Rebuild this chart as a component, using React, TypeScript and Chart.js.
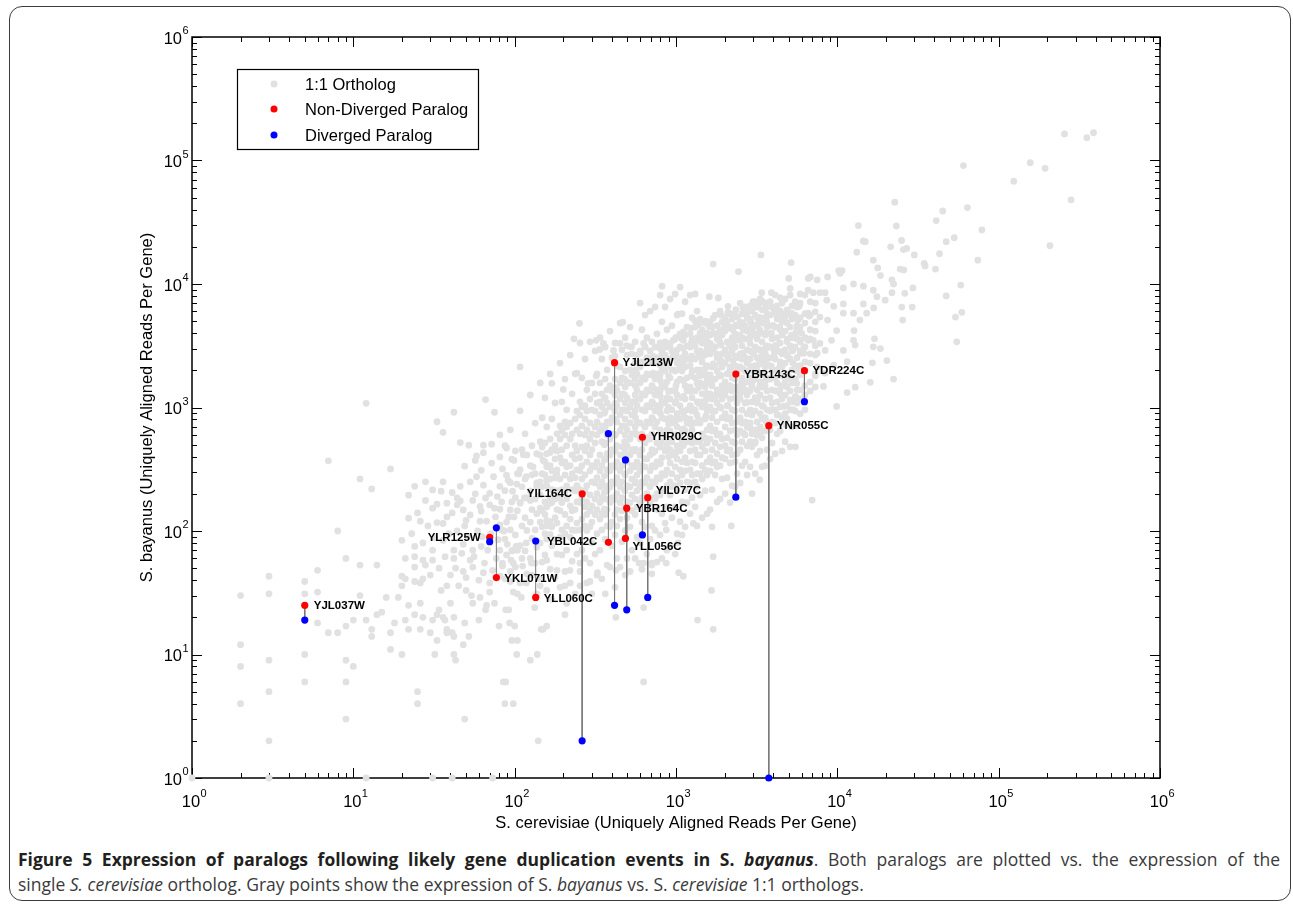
import React, { useEffect, useRef } from "react";
import { Chart, registerables } from "chart.js";

Chart.register(...registerables);

// ---------------- axis / text content ----------------
const decadeTicks = [1, 10, 100, 1000, 10000, 100000, 1000000];
const decadeExponents = ["0", "1", "2", "3", "4", "5", "6"];
const minorMultipliers = [2, 3, 4, 5, 6, 7, 8, 9];
const tickBase = "10";
const xAxisTitle = "S. cerevisiae (Uniquely Aligned Reads Per Gene)";
const yAxisTitle = "S. bayanus (Uniquely Aligned Reads Per Gene)";
const legendLabels = ["1:1 Ortholog", "Non-Diverged Paralog", "Diverged Paralog"];

// ---------------- paralog pairs ----------------
const pairGenes = ["YJL037W", "YLR125W", "YKL071W", "YLL060C", "YIL164C", "YBL042C", "YJL213W", "YLL056C", "YBR164C", "YHR029C", "YIL077C", "YBR143C", "YNR055C", "YDR224C"];
const pairCerevisiae = [5, 70, 77, 135, 262, 381, 416, 486, 495, 619, 668, 2349, 3760, 6252];
const nonDivergedBayanus = [25, 89, 42, 29, 200, 81, 2306, 87, 153, 574, 186, 1867, 712, 1986];
const divergedBayanus = [19, 82, 106, 83, 2, 614, 25, 376, 23, 93, 29, 188, 1, 1114];

// ---------------- 1:1 orthologs [S. cerevisiae, S. bayanus] ----------------
const orthologLowSparse = [
  [1, 1], [3, 1], [12, 1], [31, 1], [41, 1], [73, 1],
  [2, 4], [2, 8], [2, 12], [2, 30], [3, 2], [3, 5], [3, 9], [3, 31], [3, 43],
  [5, 6], [5, 10], [5, 31], [5, 39], [6, 18], [6, 32], [6, 48], [7, 15], [7, 370], [8, 15], [8, 100],
  [9, 3], [9, 6], [9, 9], [9, 17], [9, 60], [10, 8], [10, 19], [11, 30], [11, 53], [11, 264], [12, 19], [12, 1080],
  [13, 14], [13, 16], [13, 219], [14, 21], [14, 53], [15, 22], [16, 29], [17, 11], [17, 15], [17, 318],
  [18, 18], [19, 29], [20, 10], [20, 36], [20, 43], [20, 84], [21, 19], [21, 41], [22, 16], [22, 25], [22, 127], [22, 195],
  [24, 21], [24, 39], [24, 51], [24, 62], [24, 75], [24, 230], [25, 4], [25, 5], [26, 16], [26, 26], [26, 38], [26, 120],
  [27, 20], [27, 41], [27, 80], [28, 53], [28, 177], [28, 250], [30, 15], [31, 19], [31, 58], [31, 70], [31, 153], [31, 215],
  [32, 10], [33, 13], [33, 21], [33, 117], [33, 767], [34, 23], [34, 50], [35, 210], [36, 20], [36, 84], [36, 250], [36, 630],
  [37, 19], [38, 15], [38, 16], [38, 36], [38, 130], [38, 168], [40, 44], [41, 15], [41, 205], [42, 10], [42, 14], [42, 20], [42, 60], [42, 70], [42, 915],
  [43, 9], [44, 163], [44, 185], [46, 230], [46, 520], [48, 12], [48, 47], [48, 78], [48, 148], [49, 3], [49, 18], [49, 335],
  [50, 33], [50, 122], [52, 14], [52, 495], [53, 58], [53, 250], [55, 26], [55, 51], [55, 70], [55, 177], [57, 373], [58, 275], [58, 405],
  [60, 19], [61, 120], [61, 158], [62, 75], [62, 310], [64, 46], [64, 235], [64, 430], [64, 495], [66, 23], [66, 185], [66, 1160],
  [70, 38], [70, 163], [70, 202], [72, 355], [72, 505], [74, 275], [75, 153], [75, 915], [78, 190],
  [81, 43], [81, 112], [81, 230], [81, 398], [83, 172], [85, 6], [87, 4], [88, 6], [89, 470], [91, 257], [93, 18], [94, 39], [94, 148],
  [96, 13], [98, 4], [98, 70], [99, 130], [99, 373], [100, 17], [103, 10], [103, 240], [104, 13], [108, 168], [113, 415],
  [118, 38], [118, 80], [118, 275], [125, 9], [125, 177], [130, 330], [137, 230], [140, 2], [144, 36], [144, 153],
  [150, 16], [150, 373], [158, 17], [158, 58], [158, 122], [158, 257], [166, 168], [166, 433], [182, 290],
  [21, 60], [23, 95], [25, 140], [27, 58], [29, 110], [30, 44], [32, 88], [33, 165], [35, 33], [36, 115], [37, 62], [39, 95],
  [40, 26], [41, 140], [43, 50], [44, 100], [45, 36], [46, 175], [47, 66], [49, 110], [50, 42], [51, 90], [53, 135], [54, 30],
  [56, 62], [57, 200], [59, 100], [60, 40], [62, 145], [63, 90], [65, 55], [67, 120], [68, 70], [71, 95], [73, 48], [76, 130],
  [77, 60], [79, 85], [84, 52], [86, 100], [90, 78], [92, 130], [95, 58], [97, 210], [102, 75], [106, 290], [112, 52], [115, 185],
];

const orthologLowerTail = [
  [61, 29], [67, 25], [70, 32], [75, 26], [80, 17], [88, 23], [92, 23], [98, 32], [98, 55], [110, 29], [127, 55], [133, 24], [138, 10], [146, 16],
  [183, 48], [205, 21], [205, 36], [220, 48], [254, 36], [254, 55], [293, 39], [326, 46], [424, 20], [424, 48],
  [590, 55], [630, 6], [630, 24], [630, 55], [708, 45], [708, 55], [870, 55], [1040, 46], [1360, 19], [1700, 16],
  [870, 102], [1030, 80], [1280, 115], [1700, 62], [1110, 43], [1660, 33], [6980, 178], [3300, 260], [2200, 110],
];

const orthologUpper = [
  [256000, 164000], [352000, 153000], [387000, 168000], [157000, 96000], [194000, 86500], [124000, 68000], [60500, 91000],
  [281000, 48000], [208000, 20400], [22700, 46000], [45000, 39000], [41000, 32600], [64000, 41600], [78700, 27400],
  [13500, 29700], [23200, 29500], [14500, 22300], [14900, 22000], [25000, 22500], [47300, 22000], [53000, 23700],
  [13200, 18100], [21400, 20000], [25700, 19000], [26900, 19400], [30000, 17200], [43000, 17600], [34500, 14700],
  [35000, 14000], [74300, 15600], [40600, 13200], [3360, 17200], [1700, 14500], [2440, 12600], [5170, 14900],
  [10700, 12800], [10200, 12800], [24500, 13200], [25800, 13000], [16700, 15600], [17800, 13500], [18500, 11700],
  [21800, 10800], [22300, 10000], [29400, 9300], [26200, 8400], [29100, 6500], [25100, 6500], [25400, 5100],
  [58200, 9800], [47300, 8000], [59100, 5900], [54000, 5400], [55000, 3400], [22300, 1700], [16000, 1600],
  [12900, 1460], [11500, 1320], [9900, 1020], [20300, 2400], [16500, 2300], [18500, 3000], [16700, 3100],
  [17000, 3600], [12600, 3500], [12900, 3200], [10900, 2900], [11500, 2350], [9500, 2200], [8200, 1480],
  [8400, 1900], [7300, 1800], [7500, 2130], [9200, 3500], [9900, 4200], [12700, 4200], [13800, 5100],
  [12600, 5800], [15200, 5800], [16800, 6400], [14500, 6900], [17600, 7900], [19800, 7400], [21800, 8500],
  [16700, 8900], [14500, 9600], [12600, 10000], [10900, 9300], [10400, 12200], [8700, 11400], [7500, 10800],
  [6800, 11400], [6600, 8900], [7100, 8500], [7800, 8500], [8400, 8500], [8600, 7400], [9500, 6600],
  [10900, 6900], [10900, 5800], [7300, 5950], [7800, 5400], [8700, 5100], [6600, 5800], [5800, 6800],
  [5700, 5100], [5000, 5800], [4800, 5800], [5100, 9200], [5000, 11100], [3900, 8500], [3400, 8500],
  [3400, 7300], [3000, 7200], [4050, 6200], [3600, 6400], [2750, 5900], [2400, 5400], [2100, 6600],
  [1830, 7700], [1610, 7900], [2060, 4950], [2950, 4650], [3400, 5300], [4500, 5600], [4400, 4500],
  [3900, 4000], [3300, 4250], [2620, 4250], [2550, 3600], [2250, 4250], [1960, 4250], [1700, 4000],
  [1550, 4000], [1460, 3500], [1850, 3500], [2200, 3100], [2880, 3300], [3620, 3000], [4200, 3200],
  [5200, 3850], [5600, 4250], [6000, 4000], [6200, 3100], [6600, 3500], [7100, 3500], [7500, 2750],
  [7800, 3300], [8400, 2900], [5900, 2750], [5300, 2300], [4900, 2600], [4400, 2150], [4560, 1800],
  [5000, 1750], [5600, 1570], [3620, 1670], [4400, 1400], [5100, 1150], [5500, 1230], [4660, 1020],
  [4300, 870], [5300, 960], [4800, 720], [5500, 480], [2880, 680], [3100, 530], [2620, 620], [3300, 620],
  [3620, 770], [3930, 960], [3480, 1020], [3200, 1150], [2750, 1100], [2500, 1300], [2950, 1480],
  [3300, 1480], [2550, 1600], [2060, 1400], [1800, 1300], [1550, 1300], [1630, 1670], [1850, 1800],
  [1400, 1800], [2160, 2000], [2880, 2000], [3200, 1950], [3900, 2150], [4050, 2600], [3400, 2500],
  [2620, 2600], [2250, 2400], [1850, 2600], [1630, 2750], [1450, 2750], [1630, 3300],
  [820, 9600], [6600, 11100], [1030, 5700], [1310, 5050], [252, 4800], [468, 4900], [233, 3600], [337, 2950],
  [495, 3170], [530, 3100], [820, 3100], [960, 3500], [1110, 3500], [1270, 3330], [1410, 4000], [1610, 4500],
  [1830, 4000], [2000, 4500], [2750, 5800], [3170, 5400], [3600, 5300], [2800, 4250], [3150, 4650],
  [3650, 4950], [4000, 4600], [4670, 5400], [5200, 5800], [5800, 6600], [6700, 5500], [4900, 3600],
  [5900, 3500], [2250, 3300], [2500, 3500], [1610, 3100], [1790, 2700], [2160, 2700], [2440, 2600],
  [3020, 2750], [3620, 2600], [4050, 2900], [4400, 2830], [5300, 2900], [6200, 2750], [1410, 2830],
  [1460, 2600], [1250, 2600], [960, 2600], [1050, 2350], [830, 2300], [820, 2830], [418, 2600], [108, 2130],
  [320, 3500], [355, 3300], [410, 2900], [450, 3300], [520, 3100], [630, 3300], [600, 2750], [1230, 3100],
  [1550, 3500], [1700, 3000], [1850, 3800], [170, 1570], [200, 1400], [243, 1900], [285, 1570], [320, 1800],
];

// each row: an S. cerevisiae read level, then the S. bayanus reads of the genes read at that level
const orthologCoreColumns = [
  [81, 601, 150, 70], [84, 318, 101, 55],
  [87, 490, 212, 86, 41], [89, 283, 118, 64],
  [94, 660, 246, 102, 47], [96, 381, 172, 69],
  [101, 445, 186, 93, 51], [104, 291, 146, 70, 31],
  [108, 940, 314, 170, 76, 38], [111, 455, 228, 110, 60],
  [116, 612, 264, 128, 69], [119, 413, 186, 101, 45],
  [125, 1262, 338, 211, 118, 60], [128, 490, 285, 149, 87, 44],
  [134, 748, 291, 182, 102, 55], [137, 422, 245, 138, 74, 31],
  [144, 1580, 528, 412, 250, 196, 118, 80, 41], [148, 826, 479, 291, 228, 146, 108, 56],
  [154, 1198, 516, 363, 284, 172, 136, 95, 64], [158, 696, 422, 331, 233, 157, 110, 86, 33],
  [166, 1870, 556, 338, 264, 186, 119, 94, 49], [170, 808, 455, 307, 216, 170, 108, 76, 28],
  [178, 1088, 490, 383, 270, 182, 128, 86, 42], [183, 612, 445, 313, 212, 149, 116, 65],
  [191, 2290, 711, 556, 392, 264, 186, 146, 89, 35], [196, 1112, 646, 455, 356, 216, 170, 102, 64],
  [205, 1700, 766, 600, 363, 284, 201, 136, 95, 47], [210, 958, 696, 490, 331, 232, 182, 110, 70, 26],
  [221, 2660, 749, 556, 338, 264, 160, 125, 89, 38], [227, 1290, 612, 413, 291, 216, 146, 102, 57],
  [237, 1875, 808, 490, 383, 270, 211, 149, 101, 31], [243, 936, 660, 445, 313, 233, 172, 116, 65],
  [254, 3330, 1112, 870, 612, 392, 307, 216, 170, 102, 47], [261, 1740, 1010, 711, 480, 338, 264, 186, 125, 70],
  [273, 2470, 1033, 808, 600, 445, 284, 212, 157, 110, 60], [280, 1390, 938, 660, 490, 363, 233, 172, 136, 101, 38],
  [293, 3400, 1172, 749, 556, 413, 307, 196, 146, 108, 55], [301, 1580, 958, 612, 455, 338, 250, 160, 118, 80, 31],
  [315, 2870, 1290, 938, 696, 516, 331, 245, 182, 136, 65], [324, 1875, 1088, 766, 600, 363, 270, 201, 149, 95, 44],
  [338, 3670, 1580, 1112, 870, 646, 413, 307, 228, 170, 125, 70], [347, 2470, 1290, 1010, 711, 528, 338, 250, 186, 138, 102, 41],
  [364, 3090, 1700, 1198, 938, 696, 516, 383, 233, 182, 136, 86, 31], [374, 2020, 1390, 1088, 766, 600, 422, 313, 212, 149, 110, 53],
  [390, 4160, 1500, 1010, 749, 556, 413, 307, 228, 170, 108, 51], [401, 2530, 1362, 826, 612, 455, 338, 250, 186, 118, 76],
  [419, 3330, 1700, 1262, 938, 600, 445, 331, 245, 182, 136, 93, 35], [430, 2180, 1390, 1033, 766, 490, 363, 270, 201, 149, 110, 60],
  [450, 4830, 2130, 1580, 1172, 870, 646, 413, 307, 228, 170, 125, 51], [462, 2930, 1740, 1290, 958, 711, 480, 338, 250, 186, 146, 82],
  [484, 3670, 1975, 1465, 1088, 808, 600, 445, 284, 212, 157, 101, 44], [497, 2660, 1615, 1198, 938, 660, 490, 363, 233, 172, 128, 60],
  [519, 4480, 2020, 1580, 1010, 749, 556, 413, 307, 228, 170, 108, 47], [533, 2720, 1835, 1112, 870, 612, 455, 338, 264, 196, 146, 70],
  [558, 3400, 2290, 1700, 1262, 938, 696, 445, 331, 245, 182, 136, 60], [573, 2660, 1875, 1390, 1033, 766, 600, 363, 284, 212, 157, 89],
  [599, 7010, 2870, 2130, 1580, 1172, 749, 556, 413, 307, 228, 170, 80], [615, 4260, 2340, 1740, 1290, 958, 612, 455, 338, 250, 186, 118, 49],
  [643, 5600, 3090, 2290, 1700, 1262, 938, 696, 516, 331, 245, 182, 108], [660, 3670, 2530, 1875, 1390, 1033, 766, 570, 383, 270, 201, 149, 65],
  [691, 6040, 2870, 1835, 1362, 1010, 749, 556, 413, 307, 228, 170, 86], [709, 3400, 2340, 1500, 1112, 826, 612, 455, 338, 250, 186, 110, 53],
  [742, 6510, 3090, 2290, 1700, 1262, 938, 696, 445, 331, 245, 182, 101], [762, 3950, 2530, 1875, 1390, 1033, 766, 516, 363, 270, 201, 149, 56],
  [797, 8140, 3330, 2470, 1835, 1362, 1010, 646, 480, 356, 264, 196, 93], [818, 4940, 2720, 2020, 1500, 1112, 826, 528, 392, 291, 216, 138, 60],
  [856, 6510, 3400, 2660, 1975, 1465, 1088, 808, 600, 445, 284, 212, 116], [879, 4260, 3090, 2180, 1615, 1198, 938, 660, 490, 313, 233, 157, 70],
  [919, 7560, 3160, 2470, 1740, 1172, 826, 646, 455, 356, 250, 196, 76], [943, 4590, 2870, 2020, 1362, 958, 749, 528, 413, 291, 228, 128],
  [988, 8300, 3590, 2530, 1975, 1390, 1088, 766, 600, 422, 331, 233, 157, 65], [1015, 5600, 2930, 2290, 1615, 1262, 890, 696, 490, 383, 270, 212, 95],
  [1060, 9450, 3950, 3090, 2180, 1700, 1033, 808, 570, 445, 313, 245, 119], [1090, 5740, 3590, 2530, 1975, 1200, 938, 660, 516, 363, 284, 172, 93],
  [1139, 7180, 3860, 2720, 2130, 1500, 1172, 826, 646, 392, 307, 216, 108], [1170, 4480, 3160, 2470, 1740, 1362, 958, 749, 528, 356, 250, 170],
  [1223, 8140, 3950, 3090, 2180, 1465, 1033, 808, 570, 445, 313, 245, 138], [1258, 5330, 3590, 2530, 1975, 1200, 938, 660, 516, 363, 284, 186],
  [1314, 8300, 4480, 3160, 2470, 1740, 1362, 958, 749, 455, 356, 250, 157], [1350, 6040, 3670, 2870, 2020, 1580, 1112, 870, 528, 413, 291, 228, 110],
  [1411, 5200, 3670, 2870, 2020, 1580, 1112, 749, 528, 413, 291, 196], [1452, 4260, 3330, 2340, 1835, 1290, 1010, 612, 480, 338, 264, 128],
  [1515, 4830, 3400, 2660, 1875, 1465, 1033, 808, 570, 445, 313, 212], [1558, 3950, 3090, 2180, 1700, 1200, 938, 660, 516, 363, 284, 138],
  [1627, 4940, 3860, 2720, 1835, 1290, 1010, 711, 556, 392, 307, 149], [1672, 4480, 3160, 2130, 1500, 1172, 826, 646, 455, 356, 216, 108],
  [1748, 5600, 3950, 3090, 2180, 1700, 1200, 938, 660, 516, 363, 284], [1797, 4590, 3590, 2530, 1975, 1390, 1088, 766, 600, 422, 331, 172],
  [1877, 6040, 4260, 3330, 2340, 1835, 1290, 1010, 612, 480, 338, 182], [1930, 4940, 3860, 2720, 2130, 1500, 1172, 826, 556, 392, 264],
  [2016, 5330, 4160, 2930, 2290, 1615, 1262, 890, 696, 490, 383, 201], [2072, 4830, 3400, 2660, 1875, 1465, 1033, 808, 570, 445, 270],
  [2166, 5740, 4480, 3160, 2130, 1500, 1172, 826, 646, 455, 356, 170], [2226, 5200, 3670, 2870, 1740, 1362, 958, 749, 528, 413, 233],
  [2326, 5600, 3950, 3090, 2180, 1700, 1200, 938, 660, 516, 363, 228], [2390, 4590, 3590, 2530, 1975, 1390, 1088, 766, 600, 422, 291],
  [2498, 7010, 4940, 3860, 2720, 2130, 1500, 1172, 826, 646, 455, 245], [2567, 5740, 4480, 3160, 2470, 1740, 1362, 958, 749, 528, 338],
  [2683, 6510, 4590, 3590, 2530, 1975, 1390, 1088, 766, 600, 363], [2757, 5330, 4160, 2930, 2290, 1615, 1262, 890, 696, 490, 284],
  [2881, 6660, 5200, 3670, 2470, 1740, 1362, 958, 749, 528, 331], [2960, 6040, 4260, 2870, 2020, 1580, 1112, 870, 612, 480, 201],
  [3094, 7180, 5600, 3950, 3090, 2180, 1700, 1200, 938, 660, 516, 291], [3180, 6510, 4590, 3590, 2530, 1975, 1390, 1088, 766, 600, 413],
  [3323, 7560, 5330, 4160, 2930, 2290, 1615, 1262, 890, 696, 445], [3414, 6180, 4830, 3400, 2660, 1875, 1465, 1033, 808, 570, 331],
  [3569, 7010, 4940, 3860, 2720, 2130, 1500, 1172, 826, 646, 338], [3667, 5740, 4480, 3160, 2470, 1740, 1362, 958, 749, 455],
  [3833, 7180, 5600, 3950, 3090, 2180, 1700, 1200, 938, 660, 383], [3938, 6510, 4590, 3590, 2530, 1975, 1390, 1088, 766, 516],
  [4117, 8140, 5740, 4480, 3160, 2470, 1740, 1362, 958, 749, 422], [4230, 6660, 5200, 3670, 2870, 2020, 1580, 1112, 870, 612],
  [4421, 7740, 6040, 4260, 3330, 2340, 1835, 1290, 1010, 646], [4542, 7010, 4940, 3860, 2720, 2130, 1500, 1172, 826, 445],
  [4748, 7560, 5330, 4160, 2930, 2290, 1615, 1262, 890, 528], [4878, 6180, 4830, 3400, 2660, 1875, 1465, 1033, 808],
  [5100, 8140, 5740, 4480, 3160, 2470, 1740, 1362, 958, 480], [5240, 6660, 5200, 3670, 2870, 2020, 1580, 1112, 696],
  [5476, 7180, 5600, 3950, 3090, 2180, 1700, 1200, 938], [5626, 6510, 4590, 3590, 2530, 1975, 1390, 1088, 711],
  [5882, 8300, 7010, 5330, 4480, 3400, 2870, 2180, 1835, 1390, 1172, 890],
  [6300, 8140, 5740, 4830, 3670, 3090, 2340, 1975, 1500, 1262, 958],
  [6784, 7180, 5600, 4260, 3590, 2720, 2290, 1615, 1362],
  [7300, 7010, 4940, 4160, 3160, 2660, 1875, 1465],
];

// densest part of the cloud: further genes between the rows above
const orthologCoreFill = [
  [360, 1200, 900, 670, 500, 375, 280, 205, 150],
  [420, 1450, 1080, 800, 600, 450, 330, 245, 180],
  [480, 1700, 1270, 950, 710, 530, 395, 290, 215],
  [560, 2000, 1500, 1120, 830, 620, 460, 340, 250],
  [640, 2300, 1700, 1280, 950, 700, 520, 385],
  [720, 2600, 1900, 1450, 1080, 800, 590, 430],
  [800, 3000, 2200, 1650, 1230, 900, 660, 480, 350],
  [900, 3300, 2450, 1800, 1350, 1000, 740, 540, 400],
  [1000, 3700, 2700, 2000, 1500, 1120, 820, 600, 440],
  [1110, 4100, 3000, 2250, 1650, 1230, 900, 670, 490],
  [1240, 4400, 3300, 2450, 1800, 1350, 1000, 730, 540],
  [1380, 4700, 3500, 2600, 1950, 1450, 1080, 800],
  [1530, 5000, 3750, 2800, 2100, 1560, 1150, 850],
  [1700, 5300, 4000, 3000, 2250, 1680, 1250, 920],
  [1900, 5600, 4200, 3200, 2400, 1800, 1340, 990],
  [2100, 5900, 4400, 3350, 2500, 1880, 1400, 1040],
  [2350, 6200, 4650, 3500, 2600, 1960, 1460],
  [2600, 6400, 4850, 3650, 2750, 2050, 1530],
  [2900, 6600, 5000, 3800, 2850, 2150, 1600],
  [3250, 6800, 5150, 3900, 2950, 2230],
  [3600, 7000, 5300, 4000, 3050, 2300],
];

// ---------------- styles ----------------
const FONT = '"Liberation Sans", Arial, Helvetica, sans-serif';
const COLORS = { ortholog: "#e1e1e1", nonDiverged: "#ff0000", diverged: "#0000ff", link: "#777777" };
const labelPlacement: Record<string, { dx: number; dy: number; align: CanvasTextAlign }> = {
  YJL037W: { dx: 9, dy: 0, align: "left" },
  YLR125W: { dx: -9, dy: 1, align: "right" },
  YKL071W: { dx: 8, dy: 1, align: "left" },
  YLL060C: { dx: 8, dy: 1, align: "left" },
  YIL164C: { dx: -10, dy: 0, align: "right" },
  YBL042C: { dx: -11, dy: 0, align: "right" },
  YJL213W: { dx: 8, dy: 0, align: "left" },
  YLL056C: { dx: 7, dy: 8, align: "left" },
  YBR164C: { dx: 9, dy: 1, align: "left" },
  YHR029C: { dx: 8, dy: 0, align: "left" },
  YIL077C: { dx: 8, dy: -7, align: "left" },
  YBR143C: { dx: 8, dy: 1, align: "left" },
  YNR055C: { dx: 8, dy: 0, align: "left" },
  YDR224C: { dx: 8, dy: 0, align: "left" },
};

function orthologPoints() {
  const pts: { x: number; y: number }[] = [];
  [orthologLowSparse, orthologLowerTail, orthologUpper].forEach((list) =>
    list.forEach(([x, y]) => pts.push({ x, y }))
  );
  [orthologCoreColumns, orthologCoreFill].forEach((rows) =>
    rows.forEach((row) => {
      const [x, ...ys] = row;
      ys.forEach((y) => pts.push({ x, y }));
    })
  );
  return pts;
}

const matlabAxes = {
  id: "matlabAxes",
  beforeDatasetsDraw(chart: any) {
    const { ctx, chartArea: a } = chart;
    const xs = chart.scales.x;
    const ys = chart.scales.y;
    const L = a.left, R = a.right, T = a.top, B = a.bottom;
    ctx.save();
    ctx.strokeStyle = "#000";
    ctx.lineWidth = 1;
    ctx.beginPath();
    decadeTicks.forEach((d, i) => {
      const vals = [{ v: d, len: 10 }];
      if (i < decadeTicks.length - 1) minorMultipliers.forEach((m) => vals.push({ v: d * m, len: 5 }));
      vals.forEach(({ v, len }) => {
        const px = Math.round(xs.getPixelForValue(v)) + 0.5;
        ctx.moveTo(px, B); ctx.lineTo(px, B - len);
        ctx.moveTo(px, T); ctx.lineTo(px, T + len);
        const py = Math.round(ys.getPixelForValue(v)) + 0.5;
        ctx.moveTo(L, py); ctx.lineTo(L + len, py);
        ctx.moveTo(R, py); ctx.lineTo(R - len, py);
      });
    });
    ctx.stroke();
    ctx.lineWidth = 1.5;
    ctx.strokeRect(L, T, R - L, B - T);

    ctx.fillStyle = "#000";
    ctx.textBaseline = "alphabetic";
    decadeTicks.forEach((d, i) => {
      const px = xs.getPixelForValue(d);
      ctx.font = `16.5px ${FONT}`;
      ctx.textAlign = "center";
      ctx.fillText(tickBase, px - 1, B + 29);
      ctx.font = `11px ${FONT}`;
      ctx.textAlign = "left";
      ctx.fillText(decadeExponents[i], px + 8.5, B + 19);
      const py = ys.getPixelForValue(d);
      ctx.font = `16.5px ${FONT}`;
      ctx.textAlign = "right";
      ctx.fillText(tickBase, L - 10, py + 6.5);
      ctx.font = `11px ${FONT}`;
      ctx.textAlign = "left";
      ctx.fillText(decadeExponents[i], L - 9.5, py - 3);
    });

    ctx.font = `16.5px ${FONT}`;
    ctx.textAlign = "center";
    ctx.textBaseline = "middle";
    ctx.fillText(xAxisTitle, (L + R) / 2, B + 45);
    ctx.save();
    ctx.translate(L - 45, (T + B) / 2);
    ctx.rotate(-Math.PI / 2);
    ctx.fillText(yAxisTitle, 0, 0);
    ctx.restore();
    ctx.restore();
  },
  afterDatasetsDraw(chart: any) {
    const { ctx, chartArea: a } = chart;
    const xs = chart.scales.x;
    const ys = chart.scales.y;
    ctx.save();
    ctx.font = `bold 11.5px ${FONT}`;
    ctx.fillStyle = "#000";
    ctx.textBaseline = "middle";
    pairGenes.forEach((g, i) => {
      const p = labelPlacement[g];
      const px = xs.getPixelForValue(pairCerevisiae[i]);
      const py = ys.getPixelForValue(nonDivergedBayanus[i]);
      ctx.textAlign = p.align;
      ctx.fillText(g, px + p.dx, py + p.dy);
    });

    const lx = a.left + 45, ly = a.top + 32, lw = 241, lh = 80;
    ctx.fillStyle = "#fff";
    ctx.fillRect(lx, ly, lw, lh);
    ctx.strokeStyle = "#000";
    ctx.lineWidth = 1.2;
    ctx.strokeRect(lx + 0.5, ly + 0.5, lw, lh);
    const legendColors = [COLORS.ortholog, COLORS.nonDiverged, COLORS.diverged];
    const rowY = [15, 40, 66];
    legendLabels.forEach((t, i) => {
      ctx.beginPath();
      ctx.fillStyle = legendColors[i];
      ctx.arc(lx + 37, ly + rowY[i], 3.5, 0, Math.PI * 2);
      ctx.fill();
      ctx.fillStyle = "#000";
      ctx.font = `16.5px ${FONT}`;
      ctx.textAlign = "left";
      ctx.textBaseline = "middle";
      ctx.fillText(t, lx + 68, ly + rowY[i] + 1);
    });
    ctx.restore();
  },
};

export default function App() {
  const ref = useRef<HTMLCanvasElement | null>(null);

  useEffect(() => {
    if (!ref.current) return;
    const linkSets = pairGenes.map((g, i) => ({
      label: g,
      data: [
        { x: pairCerevisiae[i], y: nonDivergedBayanus[i] },
        { x: pairCerevisiae[i], y: divergedBayanus[i] },
      ],
      showLine: true,
      borderColor: COLORS.link,
      borderWidth: 1,
      pointRadius: 0,
      order: 2,
      clip: false,
    }));
    const chart = new Chart(ref.current, {
      type: "scatter",
      data: {
        datasets: [
          {
            label: legendLabels[0],
            data: orthologPoints(),
            backgroundColor: COLORS.ortholog,
            pointBackgroundColor: COLORS.ortholog,
            pointBorderWidth: 0,
            borderWidth: 0,
            pointRadius: 3.4,
            order: 3,
            clip: false,
          },
          ...linkSets,
          {
            label: legendLabels[1],
            data: pairCerevisiae.map((x, i) => ({ x, y: nonDivergedBayanus[i] })),
            backgroundColor: COLORS.nonDiverged,
            pointBackgroundColor: COLORS.nonDiverged,
            pointBorderWidth: 0,
            borderWidth: 0,
            pointRadius: 3.6,
            order: 1,
            clip: false,
          },
          {
            label: legendLabels[2],
            data: pairCerevisiae.map((x, i) => ({ x, y: divergedBayanus[i] })),
            backgroundColor: COLORS.diverged,
            pointBackgroundColor: COLORS.diverged,
            pointBorderWidth: 0,
            borderWidth: 0,
            pointRadius: 3.6,
            order: 0,
            clip: false,
          },
        ] as any,
      },
      options: {
        responsive: false,
        animation: false,
        devicePixelRatio: 1,
        events: [],
        layout: { padding: { left: 192, top: 37, right: 133, bottom: 62 } },
        plugins: { legend: { display: false }, tooltip: { enabled: false } },
        scales: {
          x: { type: "logarithmic", min: 1, max: 1000000, display: false },
          y: { type: "logarithmic", min: 1, max: 1000000, display: false },
        },
      } as any,
      plugins: [matlabAxes],
    });
    return () => chart.destroy();
  }, []);

  return (
    <div style={{ position: "absolute", left: 0, top: 0, width: 1293, height: 905, background: "#fff", overflow: "hidden" }}>
      <div
        style={{
          position: "absolute", left: 9, top: 6, width: 1282, height: 895,
          border: "1.5px solid #3c3c3c", borderRadius: 13, boxSizing: "border-box",
        }}
      />
      <canvas ref={ref} width={1293} height={840} style={{ position: "absolute", left: 0, top: 0, width: 1293, height: 840 }} />
      <div
        style={{
          position: "absolute", left: 18, top: 847, width: 1262,
          fontFamily: '"Open Sans", "Noto Sans", sans-serif', fontSize: 17.5, lineHeight: "25px", color: "#3a3a3a",
        }}
      >
        <div style={{ textAlign: "justify", textAlignLast: "justify" }}>
          <b style={{ color: "#231f20" }}>
            Figure 5 Expression of paralogs following likely gene duplication events in S. <i>bayanus</i>
          </b>
          . Both paralogs are plotted vs. the expression of the
        </div>
        <div>
          single <i>S. cerevisiae</i> ortholog. Gray points show the expression of S. <i>bayanus</i> vs. S. <i>cerevisiae</i> 1:1 orthologs.
        </div>
      </div>
    </div>
  );
}
